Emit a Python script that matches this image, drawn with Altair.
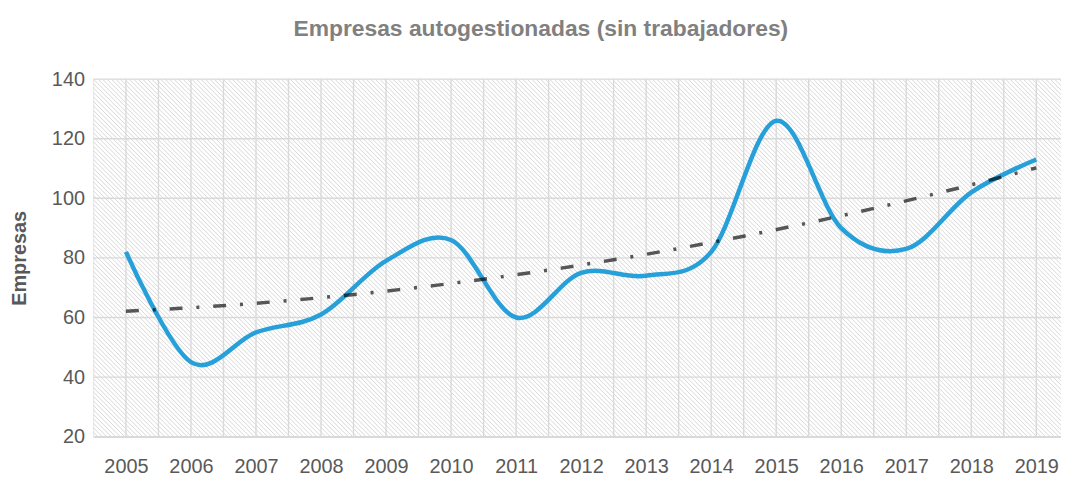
import altair as alt
import pandas as pd

# ---- data ----
years = list(range(2005, 2020))
empresas = [82, 45, 55, 61, 79, 86, 60, 75, 74, 82, 126, 90, 83, 102, 113]
y_ticks = [20, 40, 60, 80, 100, 120, 140]
title_text = "Empresas autogestionadas (sin trabajadores)"
y_title = "Empresas"

W, H = 974, 360
FONT = "Liberation Sans"
LABEL = "#595959"
GRID = "#d9d9d9"

df = pd.DataFrame({"year": years, "value": empresas})

# vertical gridlines at every category and every category boundary
grid_x = sorted(set([y - 0.5 for y in years] + years + [years[-1] + 0.5]))
gx_df = pd.DataFrame({"gx": grid_x})
gy_df = pd.DataFrame({"gy": y_ticks})

x_scale = alt.Scale(domain=[years[0] - 0.5, 2019.38], nice=False, zero=False)
y_scale = alt.Scale(domain=[y_ticks[0], y_ticks[-1]], nice=False, zero=False)

x_axis = alt.Axis(
    values=years, format="d", title=None, ticks=False, grid=False,
    domainColor=GRID, domainWidth=1.5,
    labelFont=FONT, labelFontSize=20, labelColor=LABEL, labelPadding=20,
    labelOverlap=False, labelFlush=False,
)
y_axis = alt.Axis(
    values=y_ticks, title=y_title, ticks=False, domain=False, grid=False,
    labelFont=FONT, labelFontSize=20, labelColor=LABEL, labelPadding=9,
    titleFont=FONT, titleFontSize=20, titleFontWeight="bold", titleColor=LABEL,
    titleX=-74, titleY=180, titleAngle=-90, titleAlign="center", titleBaseline="middle",
)

# decorative diagonal hatch of the plot background
hatch = (
    alt.Chart(alt.sequence(-H, W, 4.5, as_="p"))
    .transform_calculate(p2=f"datum.p + {H}")
    .mark_rule(color="#d8d8d8", strokeWidth=1, clip=True)
    .encode(
        x=alt.X("p:Q", scale=None, axis=None),
        x2="p2:Q",
        y=alt.value(0),
        y2=alt.value(H),
    )
)

vgrid = (
    alt.Chart(gx_df)
    .mark_rule(color=GRID, strokeWidth=1.4, clip=True)
    .encode(x=alt.X("gx:Q", scale=x_scale, axis=None))
)
hgrid = (
    alt.Chart(gy_df)
    .mark_rule(color=GRID, strokeWidth=1.4)
    .encode(y=alt.Y("gy:Q", scale=y_scale, axis=None))
)

line = (
    alt.Chart(df)
    .mark_line(interpolate="cardinal", color="#27a0da", strokeWidth=4.5)
    .encode(
        x=alt.X("year:Q", scale=x_scale, axis=x_axis),
        y=alt.Y("value:Q", scale=y_scale, axis=y_axis),
    )
)

# 2nd-order polynomial trendline (as in the spreadsheet chart)
trend = (
    alt.Chart(df)
    .transform_regression("year", "value", method="poly", order=2)
    .mark_line(color="#000000", opacity=0.65, strokeWidth=3.5,
               strokeDash=[13, 14, 3, 14])
    .encode(
        x=alt.X("year:Q", scale=x_scale, axis=None),
        y=alt.Y("value:Q", scale=y_scale, axis=None),
    )
)

inner = alt.layer(vgrid, hgrid, line, trend).resolve_axis(x="independent", y="independent")

chart = (
    alt.layer(hatch, inner)
    .resolve_scale(x="independent", y="independent")
    .properties(
        width=W,
        height=H,
        autosize=alt.AutoSizeParams(type="none"),
        padding={"left": 86, "top": 70, "right": 0, "bottom": 40},
        title=alt.TitleParams(
            text=title_text, font=FONT, fontSize=23, fontWeight="bold",
            color="#808080", anchor="middle", frame="bounds", offset=28, dx=5,
        ),
    )
    .configure_view(stroke="transparent")
)

chart.save("out.html", embed_options={"renderer": "svg", "actions": False})
